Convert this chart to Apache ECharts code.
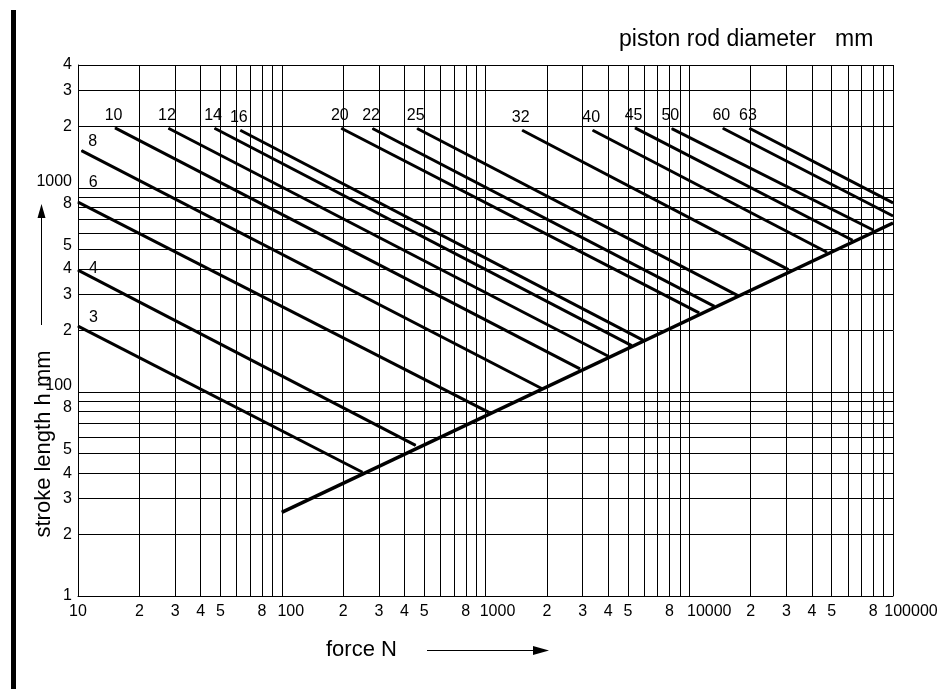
<!DOCTYPE html>
<html>
<head>
<meta charset="utf-8">
<script src="https://cdn.jsdelivr.net/npm/echarts@6/dist/echarts.min.js"></script>
<style>
html,body{margin:0;padding:0;background:#fff;}
#chart{width:950px;height:689px;}
</style>
</head>
<body>
<div id="chart"></div>
<script>
// ---- data ----
const diameters   = ['3','4','6','8','10','12','14','16','20','22','25','32','40','45','50','60','63'];
const startForce  = [10, 10, 10, 10.4, 15.2, 27.8, 46.8, 62.6, 196, 279, 462, 1514, 3358, 5420, 8210, 14620, 19750];
const startStroke = [210, 395, 852, 1523, 1968, 1960, 1960, 1916, 1960, 1953, 1953, 1916, 1916, 1968, 1953, 1960, 1960];
const endForce    = [249, 454, 1039, 1908, 2909, 4007, 5222, 5955, 11178, 13290, 17240, 30700, 47400, 63300, 80300, 100000, 100000];
const endStroke   = [40.4, 54.7, 79.4, 103.4, 129.6, 149.5, 168.7, 179, 244, 262.8, 297.5, 397.7, 483.4, 553.5, 619.7, 728, 844];

const limitForce  = [100, 100000];
const limitStroke = [25.7, 673];

const xGridValues = [10,20,30,40,50,60,70,80,90,
  100,200,300,400,500,600,700,800,900,
  1000,2000,3000,4000,5000,6000,7000,8000,9000,
  10000,20000,30000,40000,50000,60000,70000,80000,90000,100000];
const xLabelValues = [10,20,30,40,50,80,100,200,300,400,500,800,1000,2000,3000,4000,5000,8000,10000,20000,30000,40000,50000,80000,100000];
const xLabelTexts  = ['10','2','3','4','5','8','100','2','3','4','5','8','1000','2','3','4','5','8','10000','2','3','4','5','8','100000'];

const yGridValues = [10,20,30,40,50,60,70,80,90,
  100,200,300,400,500,600,700,800,900,
  1000,2000,3000,4000];
const yLabelValues = [10,20,30,40,50,80,100,200,300,400,500,800,1000,2000,3000,4000];
const yLabelTexts  = ['1','2','3','4','5','8','100','2','3','4','5','8','1000','2','3','4'];

// ---- styling / rendering ----
const FONT = '"Liberation Sans", Arial, sans-serif';
function findIdx(arr, v){
  for (let i=0;i<arr.length;i++){ if (Math.abs(arr[i]-v) < 1e-6*Math.max(1,arr[i])) return i; }
  return -1;
}
const xRichKey = {'100':'d2','1000':'d3','10000':'d4','100000':'d5'};
const yRichKey = {'100':'u','1000':'u','5':'v','8':'v'};

// label placement for the diameter labels (style, not data)
const smallLabelOffsets = [[5.5,-9],[5.5,-2],[5.3,-19],[1.3,-9]];

const chart = echarts.init(document.getElementById('chart'), null, {renderer:'canvas'});

const series = diameters.map((d,i)=>{
  const lab = i < 4
    ? {show:true, position:'right', distance:5, offset:smallLabelOffsets[i]}
    : {show:true, position:'top', distance:5, offset:[-1.5,1]};
  lab.formatter = d;
  lab.color = '#000';
  lab.fontSize = 16;
  lab.fontFamily = FONT;
  return {
    type:'line',
    name:'d'+d,
    data:[
      {value:[startForce[i], startStroke[i]], label:lab},
      {value:[endForce[i], endStroke[i]], label:{show:false}}
    ],
    symbol:'circle', symbolSize:1, showSymbol:true,
    itemStyle:{color:'#000'},
    lineStyle:{color:'#000', width:3, cap:'butt'},
    silent:true, animation:false, clip:true, z:5
  };
});
series.push({
  type:'line', name:'limit',
  data: limitForce.map((f,i)=>[f, limitStroke[i]]),
  symbol:'none', showSymbol:false,
  lineStyle:{color:'#000', width:3.5, cap:'butt'},
  silent:true, animation:false, clip:true, z:6
});

const option = {
  backgroundColor:'#fff',
  animation:false,
  grid:{left:78, right:57, top:65, bottom:93, containLabel:false},
  xAxis:{
    type:'log', logBase:10, min:10, max:100000,
    axisLine:{show:true, lineStyle:{color:'#000', width:1}},
    axisTick:{show:false, customValues:xGridValues},
    splitLine:{show:true, lineStyle:{color:'#000', width:1}},
    axisLabel:{
      customValues:xLabelValues,
      showMinLabel:true, showMaxLabel:true,
      color:'#000', fontSize:16, fontFamily:FONT, margin:8,
      formatter:function(v){
        const i = findIdx(xLabelValues, v);
        if (i < 0) return '';
        const t = xLabelTexts[i];
        const k = xRichKey[t];
        return k ? '{'+k+'|'+t+'}' : t;
      },
      rich:{
        d2:{fontSize:16, fontFamily:FONT, color:'#000', padding:[0,0,0,18]},
        d3:{fontSize:16, fontFamily:FONT, color:'#000', padding:[0,0,0,24]},
        d4:{fontSize:16, fontFamily:FONT, color:'#000', padding:[0,0,0,40]},
        d5:{fontSize:16, fontFamily:FONT, color:'#000', padding:[0,0,0,36]}
      }
    }
  },
  yAxis:{
    type:'log', logBase:10, min:10, max:4000,
    axisLine:{show:true, lineStyle:{color:'#000', width:1}},
    axisTick:{show:false, customValues:yGridValues},
    splitLine:{show:true, lineStyle:{color:'#000', width:1}},
    axisLabel:{
      customValues:yLabelValues,
      showMinLabel:true, showMaxLabel:true,
      color:'#000', fontSize:16, fontFamily:FONT, margin:6,
      formatter:function(v){
        const i = findIdx(yLabelValues, v);
        if (i < 0) return '';
        const t = yLabelTexts[i];
        const k = yRichKey[t];
        return k ? '{'+k+'|'+t+'}' : t;
      },
      rich:{
        u:{fontSize:16, fontFamily:FONT, color:'#000', padding:[0,0,12,0]},
        v:{fontSize:16, fontFamily:FONT, color:'#000', padding:[0,0,8,0]}
      }
    }
  },
  graphic:[
    {type:'rect', shape:{x:11, y:10, width:5, height:679}, style:{fill:'#000'}, silent:true},
    {type:'text', x:619, y:40, silent:true,
      style:{text:'piston rod diameter   mm', fill:'#000', font:'23px '+FONT, textAlign:'left', textVerticalAlign:'middle'}},
    {type:'text', x:44, y:444, rotation:Math.PI/2, silent:true,
      style:{text:'stroke length h mm', fill:'#000', font:'22px '+FONT, textAlign:'center', textVerticalAlign:'middle'}},
    {type:'line', shape:{x1:41.5, y1:325, x2:41.5, y2:214}, style:{stroke:'#000', lineWidth:1}, silent:true},
    {type:'polygon', shape:{points:[[41.5,204],[37.5,218],[45.5,218]]}, style:{fill:'#000'}, silent:true},
    {type:'text', x:326, y:650, silent:true,
      style:{text:'force N', fill:'#000', font:'22px '+FONT, textAlign:'left', textVerticalAlign:'middle'}},
    {type:'line', shape:{x1:427, y1:650.5, x2:536, y2:650.5}, style:{stroke:'#000', lineWidth:1}, silent:true},
    {type:'polygon', shape:{points:[[549,650.5],[533,646],[533,655]]}, style:{fill:'#000'}, silent:true}
  ],
  series:series
};
chart.setOption(option);
</script>
</body>
</html>
